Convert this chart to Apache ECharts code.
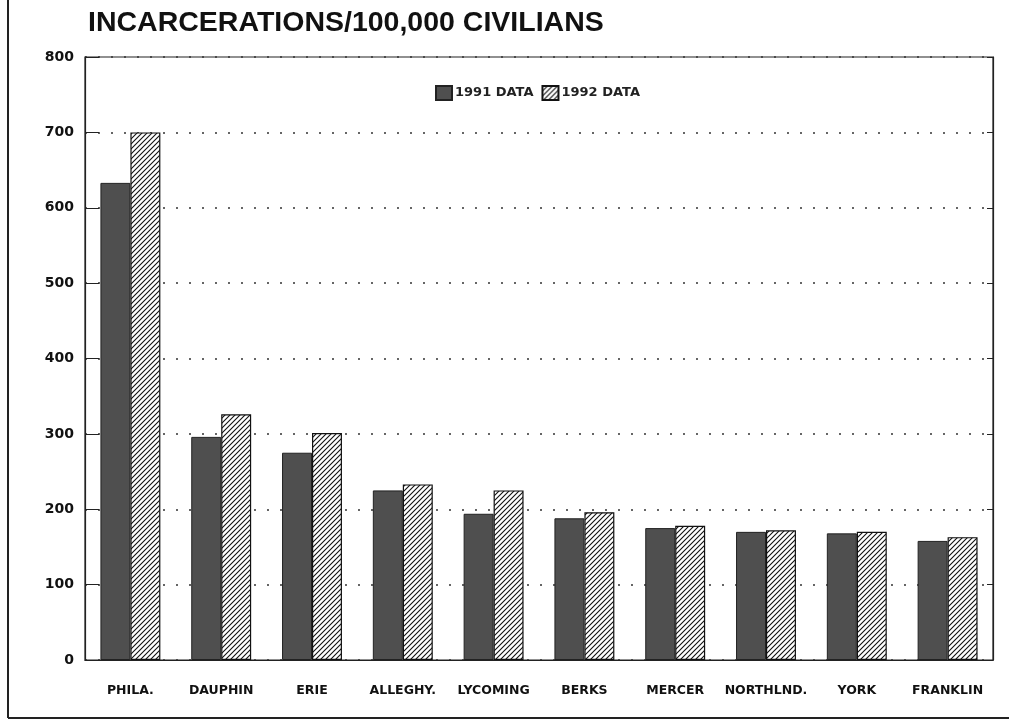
<!DOCTYPE html>
<html>
<head>
<meta charset="utf-8">
<script src="https://cdn.jsdelivr.net/npm/echarts@6/dist/echarts.min.js"></script>
<style>
html,body{margin:0;padding:0;background:#fff;}
#chart{width:1009px;height:728px;}
</style>
</head>
<body>
<div id="chart"></div>
<script>
const categories = ['PHILA.', 'DAUPHIN', 'ERIE', 'ALLEGHY.', 'LYCOMING', 'BERKS', 'MERCER', 'NORTHLND.', 'YORK', 'FRANKLIN'];
const data1991 = [633, 296, 275, 225, 194, 188, 175, 170, 168, 158];
const data1992 = [700, 326, 301, 233, 225, 196, 178, 172, 170, 163];
const seriesNames = ['1991 DATA', '1992 DATA'];
const titleText = 'INCARCERATIONS/100,000 CIVILIANS';

function hatch() {
  const s = 5;
  const c = document.createElement('canvas');
  c.width = s; c.height = s;
  const g = c.getContext('2d');
  g.fillStyle = '#fff';
  g.fillRect(0, 0, s, s);
  g.strokeStyle = '#111';
  g.lineWidth = 1.1;
  g.beginPath();
  g.moveTo(-1, s + 1); g.lineTo(s + 1, -1);
  g.moveTo(-1, 1); g.lineTo(1, -1);
  g.moveTo(s - 1, s + 1); g.lineTo(s + 1, s - 1);
  g.stroke();
  return c;
}

const chart = echarts.init(document.getElementById('chart'));
chart.setOption({
  backgroundColor: '#fff',
  animation: false,
  title: {
    text: titleText, left: 83, top: 4,
    textStyle: {fontFamily: 'Liberation Sans', fontWeight: 'bold', fontSize: 28.5, color: '#111'}
  },
  legend: {
    data: seriesNames, left: 430, top: 80, itemWidth: 16, itemHeight: 14, itemGap: 8,
    icon: 'rect',
    textStyle: {fontFamily: 'DejaVu Sans', fontWeight: 'bold', fontSize: 13, color: '#222', padding: [0, 0, 0, -2]}
  },
  grid: {left: 85, right: 16, top: 57, bottom: 68, show: true, borderColor: '#222', borderWidth: 1.2, backgroundColor: 'transparent'},
  xAxis: {
    type: 'category', data: categories,
    axisLine: {lineStyle: {color: '#222', width: 1.2}},
    axisTick: {alignWithLabel: true, length: 10, lineStyle: {color: '#222'}},
    axisLabel: {fontFamily: 'DejaVu Sans', fontWeight: 'bold', fontSize: 12.5, margin: 24, interval: 0, color: '#111'}
  },
  yAxis: [{
    type: 'value', min: 0, max: 800, interval: 100,
    axisLine: {show: true, lineStyle: {color: '#222', width: 1.2}},
    axisTick: {show: true, inside: true, length: 14, lineStyle: {color: '#222'}},
    axisLabel: {fontFamily: 'DejaVu Sans', fontWeight: 'bold', fontSize: 14, margin: 11, color: '#111'},
    splitLine: {show: true, lineStyle: {color: '#333', type: [2, 11], width: 1.6}}
  }, {
    type: 'value', min: 0, max: 800, interval: 100, position: 'right',
    axisLine: {show: true, lineStyle: {color: '#222', width: 1.2}},
    axisTick: {show: true, inside: true, length: 6, lineStyle: {color: '#222'}},
    axisLabel: {show: false}, splitLine: {show: false}
  }],
  series: [{
    name: seriesNames[0], type: 'bar', data: data1991, barGap: '0%', barCategoryGap: '34%',
    itemStyle: {color: '#4f4f4f', borderColor: '#222', borderWidth: 1}
  }, {
    name: seriesNames[1], type: 'bar', data: data1992,
    itemStyle: {color: {image: hatch(), repeat: 'repeat'}, borderColor: '#111', borderWidth: 1.2}
  }],
  graphic: [
    {type: 'line', shape: {x1: 8, y1: 0, x2: 8, y2: 718}, style: {stroke: '#222', lineWidth: 2}},
    {type: 'line', shape: {x1: 8, y1: 718, x2: 1009, y2: 718}, style: {stroke: '#222', lineWidth: 2}}
  ]
});
</script>
</body>
</html>
